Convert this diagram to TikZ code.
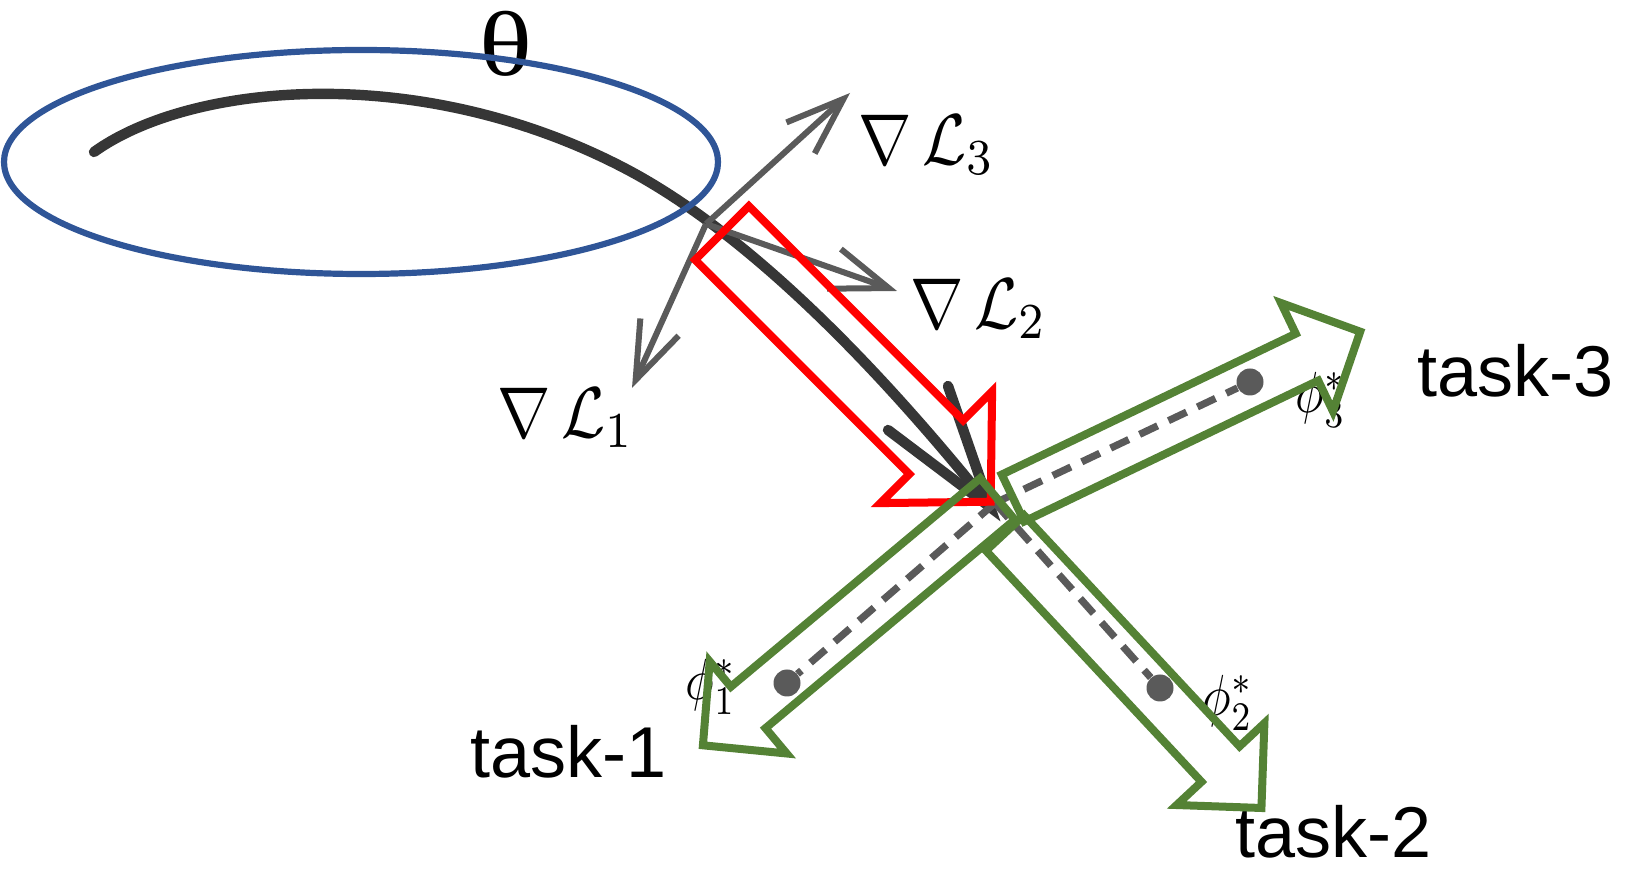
\documentclass[tikz,border=0pt]{standalone}
\usepackage[no-math]{fontspec}
\setmainfont{Liberation Sans}
\newfontfamily\grkfont{Liberation Serif}
\usetikzlibrary{arrows.meta}
\definecolor{ellblue}{HTML}{2F5597}
\definecolor{taskgreen}{HTML}{548235}
\definecolor{curvegray}{HTML}{363636}
\definecolor{gradgray}{HTML}{5A5A5A}
\tikzset{
  pathcurve/.style={draw=curvegray, line width=5.2pt, line cap=round, line join=miter},
  gradarrow/.style={draw=gradgray, line width=3pt, -{Straight Barb[length=29pt,width=21pt]}},
  dashline/.style={draw=gradgray, line width=3.6pt, dash pattern=on 10pt off 6pt},
  dotnode/.style={circle, fill=gradgray, inner sep=0pt, minimum size=13.5pt},
  redarrow/.style={draw=red, line width=4pt, line join=miter},
  greenarrow/.style={draw=taskgreen, line width=4pt, line join=miter},
  ellstyle/.style={draw=ellblue, line width=3.1pt},
  tasklabel/.style={inner sep=0pt, anchor=base west, font=\fontsize{36}{40}\selectfont},
  mathlabel/.style={inner sep=0pt, anchor=west},
  philabel/.style={inner sep=0pt},
}
% style, x, y, rotate, length, head length, shaft half width, head half width
\newcommand{\blockarrow}[8]{\draw[#1, shift={(#2,#3)}, rotate=#4] (0,#7) -- ({#5-#6},#7) -- ({#5-#6},#8) -- (#5,0) -- ({#5-#6},-#8) -- ({#5-#6},-#7) -- (0,-#7) -- cycle;}
\begin{document}
\begin{tikzpicture}[x=0.5pt,y=-0.5pt]
\useasboundingbox (0,0) rectangle (1639,870);
% labels
\node[inner sep=0pt, font=\grkfont\fontsize{46}{50}\selectfont] (theta) at (506,44) {\scalebox{1.2}[1]{θ}};
\node[mathlabel] (nl3) at (858,145) {\scalebox{3.2}[3.6]{$\nabla\,\mathcal{L}_3$}};
\node[mathlabel] (nl2) at (910,309) {\scalebox{3.2}[3.6]{$\nabla\,\mathcal{L}_2$}};
\node[mathlabel] (nl1) at (497,418) {\scalebox{3.2}[3.6]{$\nabla\,\mathcal{L}_1$}};
\node[philabel] (p1) at (711,687) {\scalebox{2.4}[2.9]{$\phi^*_1$}};
\node[philabel] (p2) at (1228,703) {\scalebox{2.4}[2.9]{$\phi^*_2$}};
\node[philabel] (p3) at (1321,400) {\scalebox{2.4}[2.9]{$\phi^*_3$}};
\node[tasklabel] (task3) at (1417,397) {task-3};
\node[tasklabel] (task1) at (470,778) {task-1};
\node[tasklabel] (task2) at (1235,858) {task-2};
% points
\coordinate (O) at (706,224);
\coordinate (t3) at (850,93);
\coordinate (t2) at (897,291);
\coordinate (t1) at (632,388);
\coordinate (C) at (995,503);
\coordinate (cstart) at (94,152);
\coordinate (cmid) at (628,170);
\coordinate (cend) at (988,504);
\coordinate (ctip) at (990,507);
\coordinate (bk1) at (888,430);
\coordinate (bk2) at (948,386);
% learning path
\draw[pathcurve] (cstart) .. controls (190,83) and (420,60) .. (cmid)
                 .. controls (720,219) and (840,320) .. (cend);
\draw[pathcurve] (bk1) -- (ctip) -- (bk2);
% gradients
\draw[gradarrow] (O) -- (t3);
\draw[gradarrow] (O) -- (t2);
\draw[gradarrow] (O) -- (t1);
% ellipse
\draw[ellstyle] (361,162) ellipse [x radius=357, y radius=112];
% task optima
\node[dotnode] (d1) at (787,683) {};
\node[dotnode] (d2) at (1160,688) {};
\node[dotnode] (d3) at (1250,382) {};
\draw[dashline] (C) -- (d1);
\draw[dashline] (C) -- (d2);
\draw[dashline] (C) -- (d3);
% block arrows
\blockarrow{redarrow}{722}{233}{-45}{380}{77}{38}{79}
\blockarrow{greenarrow}{997.5}{499}{219.9}{384}{59}{27}{60}
\blockarrow{greenarrow}{1005}{533}{-47}{376}{60}{26}{60}
\blockarrow{greenarrow}{1013}{498}{25.6}{385}{59}{26}{60}
\end{tikzpicture}
\end{document}
